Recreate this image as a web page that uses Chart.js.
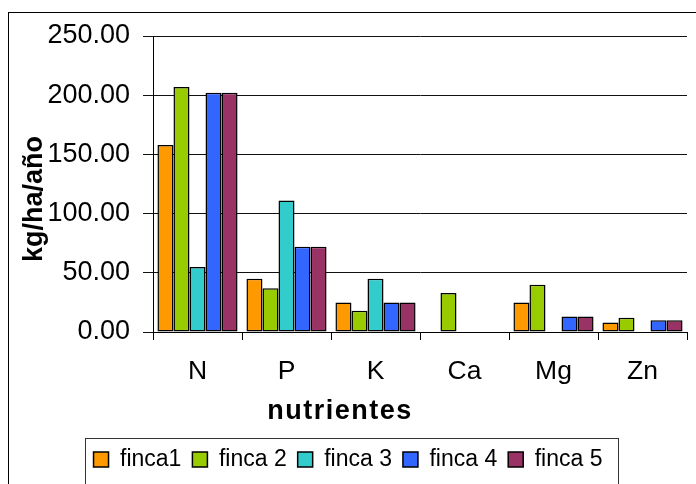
<!DOCTYPE html>
<html>
<head>
<meta charset="utf-8">
<script src="https://cdn.jsdelivr.net/npm/chart.js@4.4.1/dist/chart.umd.min.js"></script>
<style>
    html, body { margin: 0; padding: 0; background: #fff; }
    #wrap { width: 696px; height: 484px; }
</style>
</head>
<body>
<div id="wrap"><canvas id="graph" width="696" height="484"></canvas></div>
<script>
// datos (kg/ha/año)
const nutrientes = ['N', 'P', 'K', 'Ca', 'Mg', 'Zn'];
const finca1 = [158, 45, 25, null, 25, 8];
const finca2 = [207, 37, 18, 33, 40, 12];
const finca3 = [55, 111, 45, null, null, null];
const finca4 = [202, 72, 25, null, 13, 10];
const finca5 = [202, 72, 25, null, 13, 10];
const yTicks = [0, 50, 100, 150, 200, 250];

const FONT = '"Liberation Sans", Arial, sans-serif';
Chart.defaults.font.family = FONT;
Chart.defaults.color = '#000';

function serie(label, data, color) {
    return {
        label: label,
        data: data,
        backgroundColor: color,
        borderColor: '#000',
        borderWidth: 1.5,
        borderSkipped: false,
        categoryPercentage: 0.9,
        barPercentage: 1.0
    };
}

// marco exterior, recuadro de la leyenda y títulos de ejes
const frame = {
    id: 'frame',
    beforeDraw(chart) {
        const ctx = chart.ctx;
        ctx.save();
        ctx.fillStyle = '#fff';
        ctx.fillRect(0, 0, chart.width, chart.height);
        ctx.strokeStyle = '#000';
        ctx.lineWidth = 1;
        ctx.strokeRect(8.5, 12.5, chart.width + 10, chart.height + 10);
        ctx.restore();
    },
    afterDraw(chart) {
        const ctx = chart.ctx;
        const lg = chart.legend;
        const hb = lg.legendHitBoxes;
        const last = hb[hb.length - 1];
        ctx.save();
        ctx.strokeStyle = '#333';
        ctx.lineWidth = 1;
        const l = Math.round(hb[0].left - 9) + 0.5;
        const r = Math.round(last.left + last.width + 16) + 0.5;
        const t = Math.round(lg.top) + 1.5;
        ctx.strokeRect(l, t, r - l, chart.height);

        // título eje y
        ctx.fillStyle = '#000';
        ctx.font = 'bold 27px ' + FONT;
        ctx.textAlign = 'center';
        ctx.textBaseline = 'alphabetic';
        ctx.translate(42, 199);
        ctx.rotate(-Math.PI / 2);
        ctx.fillText('kg/ha/año', 0, 0);
        ctx.restore();

        // título eje x
        ctx.save();
        ctx.fillStyle = '#000';
        ctx.font = 'bold 27px ' + FONT;
        ctx.letterSpacing = '1.5px';
        ctx.textAlign = 'center';
        ctx.textBaseline = 'alphabetic';
        ctx.fillText('nutrientes', chart.scales.x.left + 187, 419);
        ctx.restore();
    }
};

let graph = new Chart(document.getElementById('graph'), {
    type: 'bar',
    data: {
        labels: nutrientes,
        datasets: [
            serie('finca1', finca1, '#FF9900'),
            serie('finca 2', finca2, '#99CC00'),
            serie('finca 3', finca3, '#33CCCC'),
            serie('finca 4', finca4, '#3366FF'),
            serie('finca 5', finca5, '#993366')
        ]
    },
    options: {
        responsive: false,
        animation: false,
        devicePixelRatio: 1,
        layout: {padding: {left: 9, right: 9, top: 36, bottom: 3}},
        plugins: {
            tooltip: {enabled: false},
            legend: {
                position: 'bottom',
                labels: {
                    boxWidth: 15,
                    boxHeight: 15,
                    padding: 11,
                    font: {size: 23},
                    color: '#000'
                }
            }
        },
        scales: {
            x: {
                ticks: {padding: 16, font: {size: 26.5}, color: '#000'},
                grid: {drawOnChartArea: false, tickLength: 8, color: '#000', offset: true},
                border: {color: '#000'},
                afterFit(scale) { scale.height = 105; }
            },
            y: {
                min: yTicks[0],
                max: yTicks[yTicks.length - 1],
                afterBuildTicks(scale) { scale.ticks = yTicks.map(v => ({value: v})); },
                ticks: {
                    padding: 13,
                    font: {size: 27},
                    color: '#000',
                    callback: v => Number(v).toFixed(2)
                },
                grid: {color: '#111', tickLength: 10, lineWidth: 1},
                border: {color: '#000'},
                afterFit(scale) { scale.width = 144; }
            }
        }
    },
    plugins: [frame]
});
</script>
</body>
</html>
